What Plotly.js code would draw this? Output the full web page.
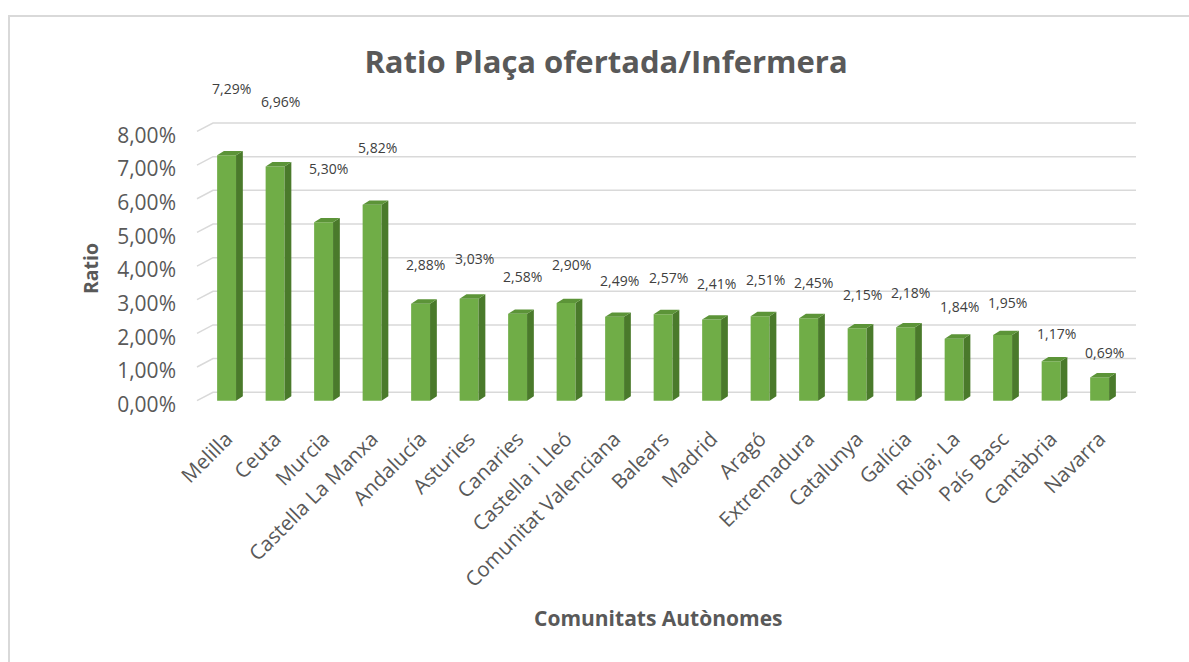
<!DOCTYPE html>
<html>
<head>
<meta charset="utf-8">
<script src="https://cdn.plot.ly/plotly-3.0.1.min.js"></script>
<style>
  html, body { margin: 0; padding: 0; background: #fff; overflow: hidden; }
  #chart { width: 1189px; height: 662px; position: absolute; left: 0; top: 0; }
  #frame { position: absolute; left: 8px; top: 15px; width: 1300px; height: 800px;
           border: 2px solid #d9d9d9; pointer-events: none; }
</style>
</head>
<body>
<div id="chart"></div>
<div id="frame"></div>
<script>
const categories = ["Melilla", "Ceuta", "Murcia", "Castella La Manxa", "Andalucía", "Asturies",
  "Canaries", "Castella i Lleó", "Comunitat Valenciana", "Balears", "Madrid", "Aragó",
  "Extremadura", "Catalunya", "Galícia", "Rioja; La", "País Basc", "Cantàbria", "Navarra"];
const ratios = [7.29, 6.96, 5.30, 5.82, 2.88, 3.03, 2.58, 2.90, 2.49, 2.57, 2.41, 2.51,
  2.45, 2.15, 2.18, 1.84, 1.95, 1.17, 0.69];
const yTicks = [0, 1, 2, 3, 4, 5, 6, 7, 8];

const fmt = v => v.toFixed(2).replace('.', ',') + '%';
const idx = categories.map((_, i) => i);

const hw = 0.195, dx = 0.14, dy = 0.13;
const sideX = [], sideY = [], topX = [], topY = [];
ratios.forEach((v, i) => {
  sideX.push(i + hw, i + hw + dx, i + hw + dx, i + hw, null);
  sideY.push(0, dy, v + dy, v, null);
  topX.push(i - hw, i - hw + dx, i + hw + dx, i + hw, null);
  topY.push(v, v + dy, v + dy, v, null);
});

const traces = [
  { type: 'bar', x: idx, y: ratios, width: 2 * hw,
    marker: { color: '#70ad47', line: { width: 0 } }, hoverinfo: 'skip' },
  { type: 'scatter', mode: 'lines', x: sideX, y: sideY, fill: 'toself',
    fillcolor: '#4a7a2b', line: { width: 0, color: '#4a7a2b' }, hoverinfo: 'skip' },
  { type: 'scatter', mode: 'lines', x: topX, y: topY, fill: 'toself',
    fillcolor: '#5c9438', line: { width: 0, color: '#5c9438' }, hoverinfo: 'skip' }
];

const plotW = 1189 - 197 - 53;
const shapes = yTicks.map(v => ({
  type: 'path', xref: 'paper', yref: 'y', layer: 'below',
  path: `M 0,${v} L ${16 / plotW},${v + 0.25} L 1,${v + 0.25}`,
  line: { color: '#d9d9d9', width: 1.5 }
}));

const annotations = ratios.map((v, i) => ({
  x: i, y: v, xref: 'x', yref: 'y', text: fmt(v), showarrow: false,
  xanchor: 'center', yanchor: 'middle', xshift: 5, yshift: 20.6 + 6.36 * v,
  font: { family: 'Open Sans, sans-serif', size: 14, color: '#404040' }
}));
annotations.push({
  text: '<b>Ratio</b>', xref: 'paper', yref: 'paper', x: -0.114, y: 0.475,
  textangle: -90, showarrow: false, xanchor: 'center', yanchor: 'middle',
  font: { family: 'Open Sans, sans-serif', size: 19.5, color: '#595959' }
});
annotations.push({
  text: '<b>Comunitats Autònomes</b>', xref: 'paper', yref: 'paper', x: 0.491, y: -0.748,
  showarrow: false, xanchor: 'center', yanchor: 'middle',
  font: { family: 'Open Sans, sans-serif', size: 21, color: '#595959' }
});

const layout = {
  width: 1189, height: 662,
  margin: { l: 197, r: 53, t: 118, b: 258, pad: 0 },
  paper_bgcolor: '#ffffff', plot_bgcolor: 'rgba(0,0,0,0)',
  showlegend: false,
  separators: ',.',
  title: { text: '<b>Ratio Plaça ofertada/Infermera</b>', xref: 'container', yref: 'container',
    x: 0.5097, y: 0.906, xanchor: 'center', yanchor: 'middle',
    font: { family: 'Open Sans, sans-serif', size: 31, color: '#595959' } },
  xaxis: {
    range: [-0.61, 18.75], tickvals: idx, ticktext: categories, tickangle: -45,
    showgrid: false, zeroline: false, showline: false, ticks: '',
    ticklabelstandoff: 18,
    tickfont: { family: 'Open Sans, sans-serif', size: 20.5, color: '#595959' }
  },
  yaxis: {
    range: [-0.1, 8.4], tickvals: yTicks, ticktext: yTicks.map(fmt),
    showgrid: false, zeroline: false, showline: false, ticks: '',
    ticklabelstandoff: 20, ticklabelshift: 4,
    tickfont: { family: 'Open Sans, sans-serif', size: 21, color: '#595959' }
  },
  shapes: shapes,
  annotations: annotations
};

Plotly.newPlot('chart', traces, layout, { staticPlot: true, displayModeBar: false });
</script>
</body>
</html>
